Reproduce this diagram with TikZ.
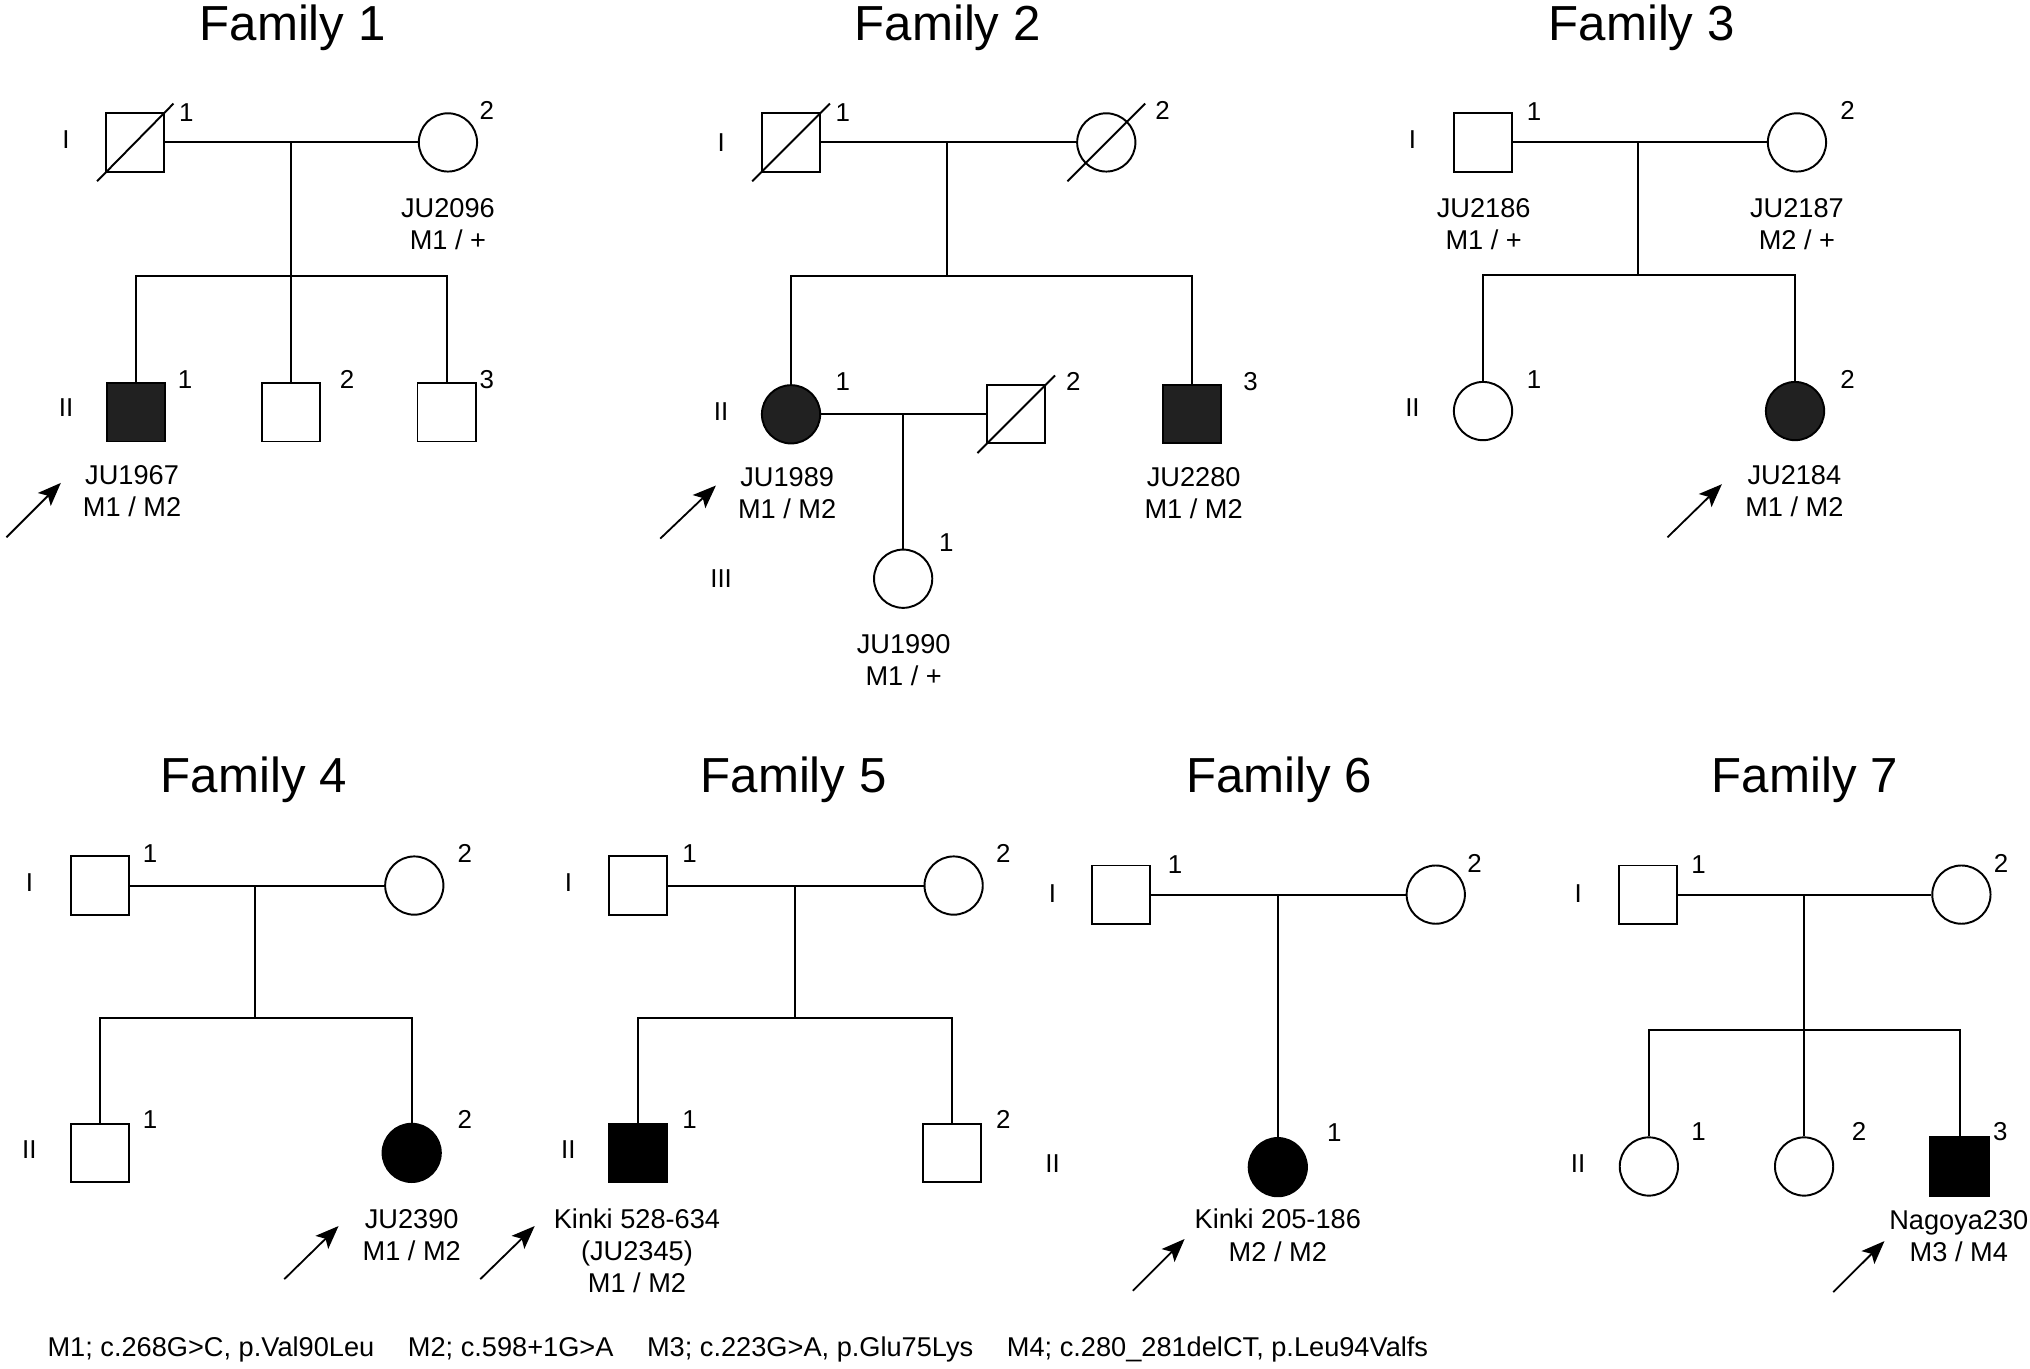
\documentclass[tikz,border=0pt]{standalone}
\usepackage{fontspec}
\setmainfont{Liberation Sans}
\usetikzlibrary{arrows.meta,positioning}

\begin{document}
\begin{tikzpicture}[x=0.5pt,y=-0.5pt,line width=0.75pt,
    male/.style={draw,rectangle,minimum size=22.5pt,inner sep=0pt},
    female/.style={draw,circle,minimum size=22.5pt,inner sep=0pt},
    aff/.style={fill=#1}, aff/.default=black!87,
    num/.style={font=\fontsize{10}{11}\selectfont,inner sep=0pt},
    lbl/.style={font=\fontsize{10.5}{12.5}\selectfont,align=center,inner sep=0pt},
    title/.style={font=\fontsize{19}{22}\selectfont,anchor=base,inner sep=0pt},
    proband/.style={-{Stealth[length=9pt,width=7pt,inset=2pt]},line width=0.7pt}]
    \useasboundingbox (0,0) rectangle (1568,1057);

    % Family 1
    \node[title] (t1) at (226,31) {Family 1};
    \node[num] (g1a) at (51,108) {I};
    \node[num] (g1b) at (51,315) {II};
    \node[male] (f1a) at (104.5,110) {};
    \draw (f1a.center) ++(-29.5,30) -- ++(59,-60);
    \node[female] (f1b) at (346,110) {};
    \node[num] (n1a) at (144,87) {1};
    \node[num] (n1b) at (376,85) {2};
    \node[lbl] (l1b) at (346,173) {JU2096\\M1 / +};
    \coordinate (f1m) at (225,110);
    \coordinate (f1s) at (225,213);
    \node[male,aff] (f1c1) at (105,318.5) {};
    \node[male] (f1c2) at (225,318.5) {};
    \node[male] (f1c3) at (345,318.5) {};
    \node[num] (n1c1) at (143,293) {1};
    \node[num] (n1c2) at (268,293) {2};
    \node[num] (n1c3) at (376,293) {3};
    \node[lbl] (l1c1) at (102,379.5) {JU1967\\M1 / M2};
    \coordinate (p1a) at (5,415);
    \coordinate (p1b) at (47,373);

    \draw (f1a) -- (f1b);
    \draw (f1m) -- (f1c2);
    \draw (f1c1.north) |- (f1s) -| (f1c3.north);
    \draw[proband] (p1a) -- (p1b);

    % Family 2
    \node[title] (t2) at (732,31) {Family 2};
    \node[num] (g2a) at (557,110) {I};
    \node[num] (g2b) at (557,318) {II};
    \node[num] (g2c) at (557,447) {III};
    \node[male] (f2a) at (611,110) {};
    \draw (f2a.center) ++(-30,30) -- ++(60,-60);
    \node[female] (f2b) at (854.5,110) {};
    \draw (f2b.center) ++(-30,30) -- ++(60,-60);
    \node[num] (n2a) at (651,87) {1};
    \node[num] (n2b) at (898,85) {2};
    \coordinate (f2m) at (731.6,110);
    \coordinate (f2s) at (731.6,213);
    \node[female,aff] (f2c1) at (611,320) {};
    \node[male] (f2sp) at (785,320) {};
    \draw (f2sp.center) ++(-30,30) -- ++(60,-60);
    \node[male,aff] (f2c3) at (920.7,320) {};
    \node[num] (n2c1) at (651,295) {1};
    \node[num] (n2sp) at (829,295) {2};
    \node[num] (n2c3) at (966,295) {3};
    \coordinate (f2m2) at (697.6,320);
    \node[female] (f2g) at (697.6,447) {};
    \node[num] (n2g) at (731,419) {1};
    \node[lbl] (l2c1) at (608,381) {JU1989\\M1 / M2};
    \node[lbl] (l2c3) at (922,381) {JU2280\\M1 / M2};
    \node[lbl] (l2g) at (698,510) {JU1990\\M1 / +};
    \coordinate (p2a) at (510,416);
    \coordinate (p2b) at (553,375);

    \draw (f2a) -- (f2b);
    \draw (f2m) -- (f2s);
    \draw (f2c1.north) |- (f2s) -| (f2c3.north);
    \draw (f2c1) -- (f2sp);
    \draw (f2m2) -- (f2g);
    \draw[proband] (p2a) -- (p2b);

    % Family 3
    \node[title] (t3) at (1268,31) {Family 3};
    \node[num] (g3a) at (1091,108) {I};
    \node[num] (g3b) at (1091,315) {II};
    \node[male] (f3a) at (1145.5,110) {};
    \node[female] (f3b) at (1388,110) {};
    \node[num] (n3a) at (1185,86) {1};
    \node[num] (n3b) at (1427,85) {2};
    \node[lbl] (l3a) at (1146,173) {JU2186\\M1 / +};
    \node[lbl] (l3b) at (1388,173) {JU2187\\M2 / +};
    \coordinate (f3m) at (1265.5,110);
    \coordinate (f3s) at (1265.5,212.5);
    \node[female] (f3c1) at (1145.5,317.5) {};
    \node[female,aff] (f3c2) at (1386.5,317.5) {};
    \node[num] (n3c1) at (1185,293) {1};
    \node[num] (n3c2) at (1427,293) {2};
    \node[lbl] (l3c2) at (1386,379.5) {JU2184\\M1 / M2};
    \coordinate (p3a) at (1288,415);
    \coordinate (p3b) at (1330,374);

    \draw (f3a) -- (f3b);
    \draw (f3m) -- (f3s);
    \draw (f3c1.north) |- (f3s) -| (f3c2.north);
    \draw[proband] (p3a) -- (p3b);

    % Family 4
    \node[title] (t4) at (196,612) {Family 4};
    \node[num] (g4a) at (22.7,682) {I};
    \node[num] (g4b) at (22.7,888) {II};
    \node[male] (f4a) at (77,684) {};
    \node[female] (f4b) at (320,684) {};
    \node[num] (n4a) at (116,659) {1};
    \node[num] (n4b) at (359,659) {2};
    \coordinate (f4m) at (197,684);
    \coordinate (f4s) at (197,786);
    \node[male] (f4c1) at (77,890.5) {};
    \node[female,aff=black] (f4c2) at (318,890.5) {};
    \node[num] (n4c1) at (116,865) {1};
    \node[num] (n4c2) at (359,865) {2};
    \node[lbl] (l4c2) at (318,954) {JU2390\\M1 / M2};
    \coordinate (p4a) at (219.6,988);
    \coordinate (p4b) at (261.5,947);

    \draw (f4a) -- (f4b);
    \draw (f4m) -- (f4s);
    \draw (f4c1.north) |- (f4s) -| (f4c2.north);
    \draw[proband] (p4a) -- (p4b);

    % Family 5
    \node[title] (t5) at (613,612) {Family 5};
    \node[num] (g5a) at (439,682) {I};
    \node[num] (g5b) at (439,888) {II};
    \node[male] (f5a) at (493,684) {};
    \node[female] (f5b) at (736.6,684) {};
    \node[num] (n5a) at (532.6,659) {1};
    \node[num] (n5b) at (775,659) {2};
    \coordinate (f5m) at (614,684);
    \coordinate (f5s) at (614,786);
    \node[male,aff=black] (f5c1) at (493,890.5) {};
    \node[male] (f5c2) at (735.5,890.5) {};
    \node[num] (n5c1) at (532.6,865) {1};
    \node[num] (n5c2) at (775,865) {2};
    \node[lbl] (l5c1) at (492,966) {Kinki 528-634\\(JU2345)\\M1 / M2};
    \coordinate (p5a) at (371,988);
    \coordinate (p5b) at (413,947);

    \draw (f5a) -- (f5b);
    \draw (f5m) -- (f5s);
    \draw (f5c1.north) |- (f5s) -| (f5c2.north);
    \draw[proband] (p5a) -- (p5b);

    % Family 6
    \node[title] (t6) at (988,612) {Family 6};
    \node[num] (g6a) at (813,690.5) {I};
    \node[num] (g6b) at (813,899) {II};
    \node[male] (f6a) at (866,691) {};
    \node[female] (f6b) at (1109,691) {};
    \node[num] (n6a) at (907.6,668) {1};
    \node[num] (n6b) at (1139,667) {2};
    \coordinate (f6m) at (987,691);
    \node[female,aff=black] (f6c) at (987,901.5) {};
    \node[num] (n6c) at (1030.6,874.5) {1};
    \node[lbl] (l6c) at (987,954) {Kinki 205-186\\M2 / M2};
    \coordinate (p6a) at (875,997);
    \coordinate (p6b) at (915,957);

    \draw (f6a) -- (f6b);
    \draw (f6m) -- (f6c);
    \draw[proband] (p6a) -- (p6b);

    % Family 7
    \node[title] (t7) at (1394,612) {Family 7};
    \node[num] (g7a) at (1219,690.5) {I};
    \node[num] (g7b) at (1219,899) {II};
    \node[male] (f7a) at (1273,691) {};
    \node[female] (f7b) at (1515,691) {};
    \node[num] (n7a) at (1312,668) {1};
    \node[num] (n7b) at (1545.6,667) {2};
    \coordinate (f7m) at (1393.5,691);
    \coordinate (f7s) at (1393.5,795.5);
    \node[female] (f7c1) at (1273.6,901) {};
    \node[female] (f7c2) at (1393.5,901) {};
    \node[male,aff=black] (f7c3) at (1513.6,901) {};
    \node[num] (n7c1) at (1312,874) {1};
    \node[num] (n7c2) at (1436,874) {2};
    \node[num] (n7c3) at (1545,874) {3};
    \node[lbl] (l7c3) at (1513,955) {Nagoya230\\M3 / M4};
    \coordinate (p7a) at (1416,998);
    \coordinate (p7b) at (1455.6,958.6);

    \draw (f7a) -- (f7b);
    \draw (f7m) -- (f7c2);
    \draw (f7c1.north) |- (f7s) -| (f7c3.north);
    \draw[proband] (p7a) -- (p7b);

    % mutations
    \node[lbl,anchor=base west] (legend) at (36,1048) {M1; c.268G>C, p.Val90Leu\hspace{13pt}M2; c.598+1G>A\hspace{13pt}M3; c.223G>A, p.Glu75Lys\hspace{13pt}M4; c.280\_281delCT, p.Leu94Valfs};
\end{tikzpicture}
\end{document}
